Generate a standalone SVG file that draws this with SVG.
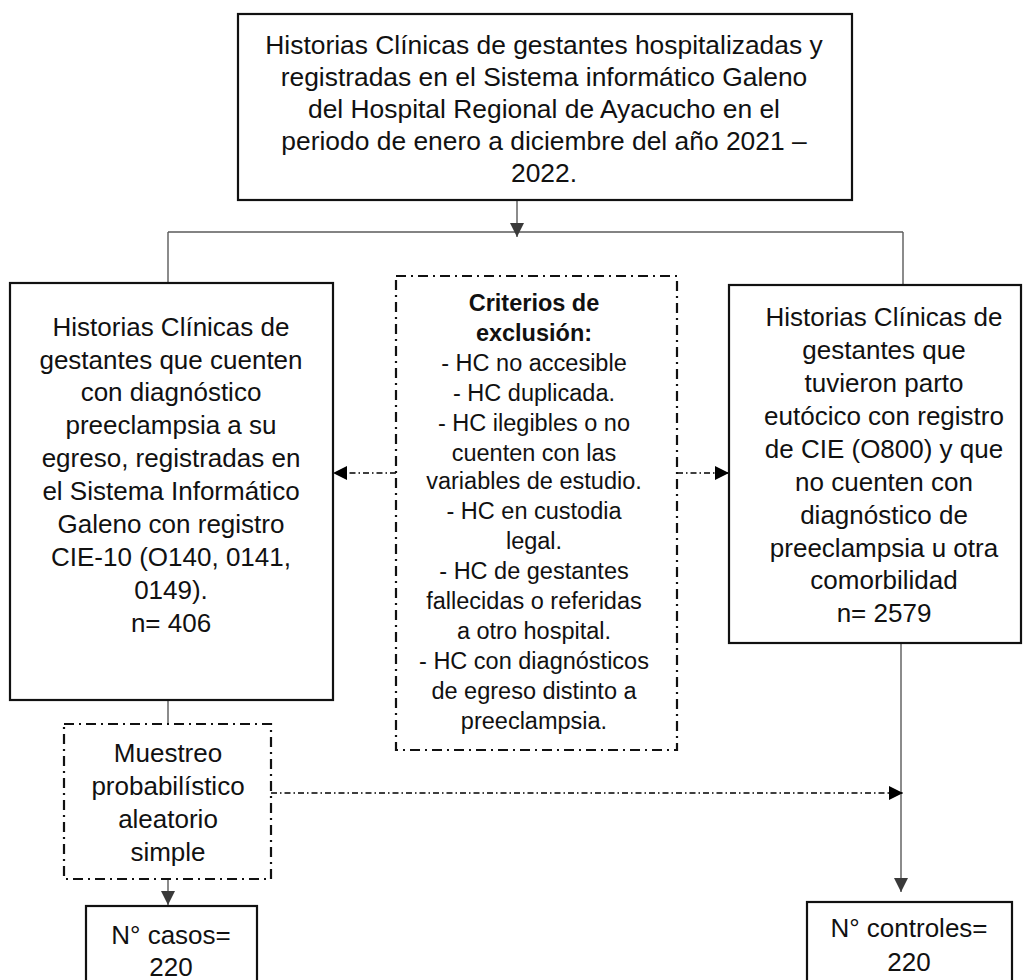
<svg xmlns="http://www.w3.org/2000/svg" width="1030" height="980" viewBox="0 0 1030 980">
<defs>
<style>
.box{fill:#fff;stroke:#111;stroke-width:2.2}
.dbox{fill:#fff;stroke:#111;stroke-width:2.2;stroke-dasharray:10 5 2 5}
.t{font-family:"Liberation Sans",Arial,sans-serif;font-size:26px;fill:#111;text-anchor:middle}
.tt{font-family:"Liberation Sans",Arial,sans-serif;font-size:26.4px;fill:#111;text-anchor:middle}
.ts{font-family:"Liberation Sans",Arial,sans-serif;font-size:23.5px;fill:#111;text-anchor:middle}
.b{font-weight:bold}
.c{fill:none;stroke:#5a5a5a;stroke-width:1.4}
.d{fill:none;stroke:#000;stroke-width:1.4;stroke-dasharray:6 3 1.5 3}
</style>
<marker id="ah" viewBox="0 0 10 10" refX="10" refY="5" markerWidth="14" markerHeight="14" markerUnits="userSpaceOnUse" orient="auto">
<path d="M0,0 L10,5 L0,10 z" fill="#3a3a3a"/>
</marker>
<marker id="ak" viewBox="0 0 10 10" refX="10" refY="5" markerWidth="14" markerHeight="14" markerUnits="userSpaceOnUse" orient="auto">
<path d="M0,0 L10,5 L0,10 z" fill="#000"/>
</marker>
</defs>
<rect width="1030" height="980" fill="#fff"/>
<g id="connectors">
<line class="c" x1="168" y1="232" x2="903" y2="232"/>
<line class="c" x1="168" y1="232" x2="168" y2="283"/>
<line class="c" x1="903" y1="232" x2="903" y2="285"/>
<line class="c" x1="517" y1="200" x2="517" y2="237" marker-end="url(#ah)"/>
<line class="d" x1="396" y1="473" x2="333" y2="473" marker-end="url(#ak)"/>
<line class="d" x1="677" y1="473" x2="729" y2="473" marker-end="url(#ak)"/>
<line class="c" x1="168" y1="700" x2="168" y2="724"/>
<line class="c" x1="168" y1="879" x2="168" y2="905" marker-end="url(#ah)"/>
<line class="c" x1="901" y1="643" x2="901" y2="892" marker-end="url(#ah)"/>
<line class="d" x1="271" y1="793" x2="903" y2="793" marker-end="url(#ak)"/>
</g>
<g id="top">
<rect class="box" x="238" y="14" width="614" height="186"/>
<text class="tt" x="544" y="54">Historias Clínicas de gestantes hospitalizadas y</text>
<text class="tt" x="544" y="86">registradas en el Sistema informático Galeno</text>
<text class="tt" x="544" y="118">del Hospital Regional de Ayacucho en el</text>
<text class="tt" x="544" y="150">periodo de enero a diciembre del año 2021 –</text>
<text class="tt" x="544" y="182">2022.</text>
</g>
<g id="casos-pop">
<rect class="box" x="10" y="283" width="323" height="417"/>
<text class="t" x="171" y="336">Historias Clínicas de</text>
<text class="t" x="171" y="369">gestantes que cuenten</text>
<text class="t" x="171" y="401">con diagnóstico</text>
<text class="t" x="171" y="434">preeclampsia a su</text>
<text class="t" x="171" y="467">egreso, registradas en</text>
<text class="t" x="171" y="500">el Sistema Informático</text>
<text class="t" x="171" y="533">Galeno con registro</text>
<text class="t" x="171" y="566">CIE-10 (O140, 0141,</text>
<text class="t" x="171" y="599">0149).</text>
<text class="t" x="171" y="632">n= 406</text>
</g>
<g id="exclusion">
<rect class="dbox" x="396" y="276" width="281" height="474"/>
<text class="ts b" x="534" y="311">Criterios de</text>
<text class="ts b" x="534" y="341">exclusión:</text>
<text class="ts" x="534" y="371">- HC no accesible</text>
<text class="ts" x="534" y="401">- HC duplicada.</text>
<text class="ts" x="534" y="431">- HC ilegibles o no</text>
<text class="ts" x="534" y="461">cuenten con las</text>
<text class="ts" x="534" y="489">variables de estudio.</text>
<text class="ts" x="534" y="519">- HC en custodia</text>
<text class="ts" x="534" y="549">legal.</text>
<text class="ts" x="534" y="579">- HC de gestantes</text>
<text class="ts" x="534" y="609">fallecidas o referidas</text>
<text class="ts" x="534" y="639">a otro hospital.</text>
<text class="ts" x="534" y="669">- HC con diagnósticos</text>
<text class="ts" x="534" y="699">de egreso distinto a</text>
<text class="ts" x="534" y="729">preeclampsia.</text>
</g>
<g id="controles-pop">
<rect class="box" x="729" y="285" width="292" height="358"/>
<text class="t" x="884" y="326">Historias Clínicas de</text>
<text class="t" x="884" y="359">gestantes que</text>
<text class="t" x="884" y="392">tuvieron parto</text>
<text class="t" x="884" y="425">eutócico con registro</text>
<text class="t" x="884" y="458">de CIE (O800) y que</text>
<text class="t" x="884" y="491">no cuenten con</text>
<text class="t" x="884" y="524">diagnóstico de</text>
<text class="t" x="884" y="557">preeclampsia u otra</text>
<text class="t" x="884" y="589">comorbilidad</text>
<text class="t" x="884" y="622">n= 2579</text>
</g>
<g id="muestreo">
<rect class="dbox" x="64" y="724" width="207" height="155"/>
<text class="t" x="168" y="762">Muestreo</text>
<text class="t" x="168" y="795">probabilístico</text>
<text class="t" x="168" y="828">aleatorio</text>
<text class="t" x="168" y="861">simple</text>
</g>
<g id="casos">
<rect class="box" x="86" y="906" width="171" height="85"/>
<text class="t" x="171" y="944">N° casos=</text>
<text class="t" x="171" y="976">220</text>
</g>
<g id="controles">
<rect class="box" x="807" y="902" width="205" height="90"/>
<text class="t" x="909" y="937">N° controles=</text>
<text class="t" x="909" y="971">220</text>
</g>
</svg>
